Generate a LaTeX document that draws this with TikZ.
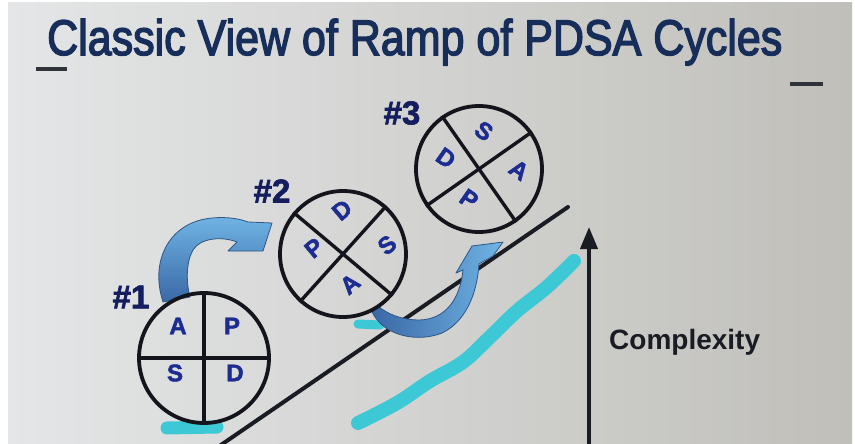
\documentclass[tikz,border=0pt]{standalone}
\usepackage{fontspec}
\setmainfont{Liberation Sans}
\newfontfamily\titlefont{Liberation Sans}[FakeBold=3]
\newfontfamily\heavysans{Liberation Sans}[BoldFeatures={FakeBold=2}]
\usetikzlibrary{arrows.meta}

\definecolor{screenlight}{RGB}{228,230,231}
\definecolor{screenmid}{RGB}{218,220,220}
\definecolor{screendark}{RGB}{192,191,186}
\definecolor{titleblue}{RGB}{24,46,90}
\definecolor{wheelink}{RGB}{20,20,28}
\definecolor{letterblue}{RGB}{28,44,145}
\definecolor{tagnavy}{RGB}{20,30,95}
\definecolor{hilite}{RGB}{60,200,212}
\definecolor{arrowdark}{RGB}{58,104,166}
\definecolor{arrowlight}{RGB}{112,180,228}
\definecolor{arrowedge}{RGB}{46,86,134}
\definecolor{inkdark}{RGB}{26,28,36}

\tikzset{
  wheel/.style={circle, draw=wheelink, line width=3.8pt, minimum size=130pt, inner sep=0pt},
  spoke/.style={draw=wheelink, line width=3.4pt},
  letter/.style={font=\heavysans\bfseries\fontsize{24}{24}\selectfont, text=letterblue, inner sep=0pt},
  tag/.style={font=\heavysans\bfseries\fontsize{33}{33}\selectfont, text=tagnavy, inner sep=0pt},
  marker/.style={draw=hilite, line cap=round, line join=round},
  bendarrow/.style={draw=arrowedge, line width=0.8pt, line join=round},
  rampline/.style={draw=inkdark, line width=4pt, line cap=round},
  dashmark/.style={draw=inkdark!90, line width=4.5pt},
}

\begin{document}
\begin{tikzpicture}[x=1pt,y=-1pt]
  % screen background with a thin white frame
  \fill[white] (0,0) rectangle (855,444);
  \shade[left color=screenlight, middle color=screenmid, right color=screendark]
    (8,3) rectangle (852,444);
  \useasboundingbox (0,0) rectangle (855,444);

  % title and the two short dashes
  \node[anchor=base west, font=\titlefont\fontsize{50}{50}\selectfont, text=titleblue,
        inner sep=0pt, xscale=0.86] (title) at (47,55) {Classic View of Ramp of PDSA Cycles};
  \coordinate (dl0) at (36,69);  \coordinate (dl1) at (67,69);
  \coordinate (dr0) at (790,84); \coordinate (dr1) at (823,84);
  \draw[dashmark] (dl0) -- (dl1);
  \draw[dashmark] (dr0) -- (dr1);

  % highlighter strokes
  \draw[marker, line width=13pt] (167,428) -- (217,427);
  \draw[marker, line width=9pt] (358,324) -- (380,325);
  \draw[marker, line width=14pt] plot[smooth, tension=0.6] coordinates
    {(358,423) (397,403) (430,381) (463,362) (490,337) (517,311) (547,287) (574,261)};

  % the ramp
  \coordinate (r0) at (218,447);
  \coordinate (r1) at (568,207);
  \draw[rampline] (r0) -- (r1);

  % curved arrow from cycle 1 to cycle 2
  \shade[bendarrow, top color=arrowlight, bottom color=arrowdark]
    (163,302) .. controls (150,262) and (168,226) .. (205,219)
    .. controls (222,216) and (238,218) .. (248,222)
    -- (272,223) -- (263,251) -- (228,251) -- (237,242)
    .. controls (222,236) and (200,238) .. (193,250)
    .. controls (186,262) and (186,282) .. (190,297) -- cycle;

  % curved arrow from cycle 2 to cycle 3
  \shade[bendarrow, left color=arrowdark, right color=arrowlight]
    (372,312) .. controls (385,338) and (420,342) .. (442,333)
    .. controls (465,322) and (477,295) .. (479,264)
    -- (493,256) -- (503,242) -- (472,246) -- (456,273) -- (463,270)
    .. controls (460,300) and (445,319) .. (420,320)
    .. controls (400,320) and (386,313) .. (378,306) -- cycle;

  % cycle 1
  \node[wheel] (c1) at (204,358) {};
  \draw[spoke] (c1.north) -- (c1.south);
  \draw[spoke] (c1.west) -- (c1.east);
  \node[letter] (c1a) at (178,326) {A};
  \node[letter] (c1p) at (232,326) {P};
  \node[letter] (c1s) at (175,373) {S};
  \node[letter] (c1d) at (235,373) {D};
  \node[tag] (t1) at (131,297) {\#1};

  % cycle 2
  \node[wheel, minimum size=126pt] (c2) at (343,254) {};
  \draw[spoke] (c2.48) -- (c2.228);
  \draw[spoke] (c2.140) -- (c2.320);
  \node[letter, rotate=40] (c2d) at (342,210) {D};
  \node[letter, rotate=40] (c2s) at (387,245) {S};
  \node[letter, rotate=40] (c2a) at (350,284) {A};
  \node[letter, rotate=40] (c2p) at (314,248) {P};
  \node[tag] (t2) at (272,191) {\#2};

  % cycle 3
  \node[wheel, minimum size=126pt] (c3) at (479,169) {};
  \draw[spoke] (c3.35) -- (c3.215);
  \draw[spoke] (c3.125) -- (c3.305);
  \node[letter, rotate=-35] (c3s) at (484,131) {S};
  \node[letter, rotate=-35] (c3a) at (519,170) {A};
  \node[letter, rotate=-35] (c3p) at (469,199) {P};
  \node[letter, rotate=-35] (c3d) at (446,158) {D};
  \node[tag] (t3) at (402,113) {\#3};

  % complexity axis
  \coordinate (ax0) at (589,447);
  \coordinate (ax1) at (589,227);
  \draw[draw=inkdark, line width=4pt, -{Triangle[width=17pt,length=22pt]}] (ax0) -- (ax1);
  \node[anchor=west, font=\bfseries\fontsize{28}{28}\selectfont, text=inkdark, inner sep=0pt]
    (cx) at (609,342) {Complexity};
\end{tikzpicture}
\end{document}
